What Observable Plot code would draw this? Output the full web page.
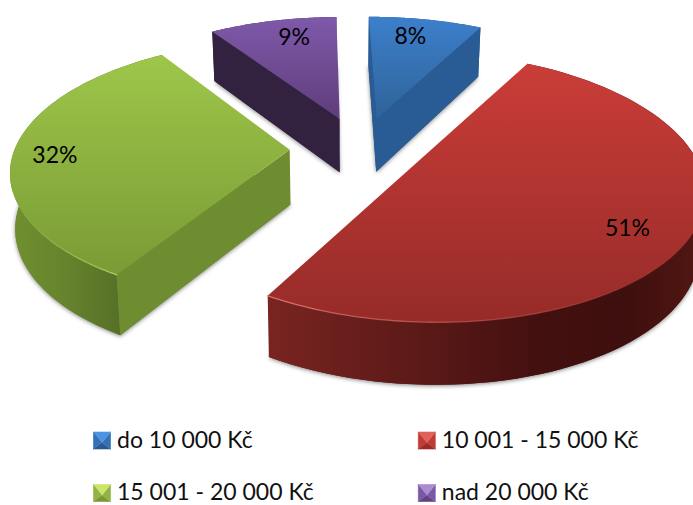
<!DOCTYPE html>
<html lang="cs">
<head>
<meta charset="utf-8">
<style>
  html, body { margin: 0; background: #fff; overflow: hidden; }
  svg { display: block; }
</style>
<script src="https://cdn.jsdelivr.net/npm/d3@7"></script>
<script src="https://cdn.jsdelivr.net/npm/@observablehq/plot@0.6"></script>
</head>
<body>
<script>
// Shares of respondents per income band, in percent.
const categories = ["do 10 000 Kč", "10 001 - 15 000 Kč", "15 001 - 20 000 Kč", "nad 20 000 Kč"];
const shares = [8, 51, 32, 9];

// Where each percentage sits inside its slice: along the sweep and out from the apex.
const labelSweep = [0.43, 0.52, 0.48, 0.59];
const labelRadius = [0.8, 0.807, 0.858, 0.8];

// Slice colours: top face (upper, lower), cut face, outer wall stops, legend swatch facets.
const topColors = [["#3c7fcb", "#2f6399"], ["#ca3d38", "#962b28"], ["#9ec64a", "#7a9b35"], ["#7f59aa", "#5f3d7b"]];
const cutColors = ["#295b94", "#5a1a18", "#6e8c30", "#322240"];
const wallStops = [
  [[0, "#295b94"], [1, "#295b94"]],
  [[0, "#792421"], [0.3, "#5f1b19"], [0.62, "#43100f"], [0.82, "#3d0f0e"], [1, "#541713"]],
  [[0, "#70902f"], [0.35, "#66842d"], [0.72, "#566f27"], [1, "#566f27"]],
  [[0, "#322240"], [1, "#322240"]]
];
const swatchFacets = [
  ["#4d94e0", "#3570b4", "#2a5a92", "#3570b4"],
  ["#e0605a", "#c03a36", "#9a2c28", "#c03a36"],
  ["#c9e56a", "#93b343", "#7a9836", "#93b343"],
  ["#a98bd0", "#7a58a6", "#61437f", "#7a58a6"]
];
const rimColors = [null, "#e0706a", "#b4d45c", null];
const rimSpans = [null, [0.45, 1], [0, 0.5], null];

// Perspective view of the pie plane, explosion and per-slice refinements.
const view = [272.2, 47.5, 359.8, -0.734, -103.2, 148.75, 0.00596, 0.1514];
const explode = 0.261;
const sliceReach = [1, 1.01, 1.012, 1];
const sliceDrift = [0.005, 0, 0, 0];

function project(X, Y) {
  const w = view[6] * X + view[7] * Y + 1;
  return [(view[0] * X + view[1] * Y + view[2]) / w, (view[3] * X + view[4] * Y + view[5]) / w];
}
// Drop from a point on the top face to the same point on the base.
const below = ([x, y]) => [x + (340 - x) * 0.016, y + 48 + 0.045 * y];

// Slice angles come straight from the shares.
let running = 0;
const slices = shares.map((share, i) => {
  const a0 = (running * 3.6 * Math.PI) / 180;
  running += share;
  const a1 = (running * 3.6 * Math.PI) / 180;
  const mid = (a0 + a1) / 2;
  const point = (t, r) =>
    project(
      sliceDrift[i] + explode * Math.sin(mid) + r * Math.sin(t),
      explode * Math.cos(mid) + r * Math.cos(t)
    );
  const arc = (f0 = 0, f1 = 1) =>
    d3.range(0, 81).map((k) => point(a0 + (a1 - a0) * (f0 + ((f1 - f0) * k) / 80), sliceReach[i]));
  return { i, a0, a1, mid, point, arc };
});

const xy = { x: (d) => d[0], y: (d) => d[1] };
const polygon = (pts, fill, extra = {}) => Plot.line(pts, { ...xy, fill, stroke: "none", ...extra });

// Gradients shared by the faces of each slice.
function gradients() {
  const defs = d3.create("svg:defs");
  const add = (id, stops, horizontal) => {
    const g = defs.append("linearGradient").attr("id", id)
      .attr("x1", 0).attr("y1", 0).attr("x2", horizontal ? 1 : 0).attr("y2", horizontal ? 0 : 1);
    stops.forEach(([o, c, a = 1]) =>
      g.append("stop").attr("offset", o).attr("stop-color", c).attr("stop-opacity", a));
  };
  slices.forEach(({ i }) => {
    add(`top${i}`, [[0, topColors[i][0]], [1, topColors[i][1]]], false);
    add(`wall${i}`, wallStops[i], true);
  });
  add("rim1", [[0, rimColors[1], 0.9], [1, rimColors[1], 0]], true);
  add("rim2", [[0, rimColors[2], 0], [1, rimColors[2], 0.9]], true);
  return defs.node();
}

const marks = [gradients];

slices.forEach((s) => {
  const { i, point, a0, a1 } = s;
  const apex = point(0, 0);
  const arc = s.arc();
  const start = arc[0];
  const end = arc[arc.length - 1];
  // A slice of about half the pie keeps a straight cut across its apex.
  const outline = a1 - a0 > Math.PI ? arc : [apex, ...arc];
  // Base of the slice casts the soft contact shadow.
  marks.push(polygon(outline.map(below), cutColors[i], {
    imageFilter: "drop-shadow(0 1px 2px rgba(0,0,0,.5))"
  }));
  marks.push(polygon([...arc, ...arc.map(below).reverse()], `url(#wall${i})`));
  if (start[0] < apex[0] - 3) marks.push(polygon([apex, start, below(start), below(apex)], cutColors[i]));
  if (end[0] > apex[0] + 3) marks.push(polygon([apex, end, below(end), below(apex)], cutColors[i]));
  marks.push(polygon(outline, `url(#top${i})`));
  if (rimSpans[i]) {
    marks.push(Plot.line(s.arc(...rimSpans[i]), { ...xy, stroke: `url(#rim${i})`, strokeWidth: 1.3 }));
  }
});

// Percentages on the slices.
const labels = slices.map((s) => {
  const [x, y] = s.point(s.a0 + (s.a1 - s.a0) * labelSweep[s.i], labelRadius[s.i]);
  return { x, y, text: `${shares[s.i]}%` };
});
marks.push(Plot.text(labels, {
  x: "x", y: "y", text: "text", fontSize: 23, fontFamily: "Lato", fill: "#000"
}));

// Legend, two columns by two rows.
const legendColumns = [101.5, 426.3];
const legendRows = [440, 492.5];
const swatchHalf = 8.5;
const legendItems = [[0, 0], [1, 0], [0, 1], [1, 1]].map(([c, r], i) => ({
  cx: legendColumns[c], cy: legendRows[r], text: categories[i], i
}));
legendItems.forEach(({ cx, cy, i }) => {
  const h = swatchHalf;
  const corners = [[cx - h, cy - h], [cx + h, cy - h], [cx + h, cy + h], [cx - h, cy + h]];
  const peak = [cx, cy + 2];
  // Bottom and side facets first, so the bright top facet sits over their seams.
  [2, 1, 3, 0].forEach((k) => {
    const color = swatchFacets[i][k];
    marks.push(polygon([corners[k], corners[(k + 1) % 4], peak], color, { stroke: color, strokeWidth: 0.6 }));
  });
});
marks.push(Plot.text(legendItems, {
  x: (d) => d.cx + 15, y: "cy", text: "text", textAnchor: "start",
  fontSize: 23, fontFamily: "Lato", fill: "#111"
}));

const chart = Plot.plot({
  width: 693,
  height: 505,
  margin: 0,
  x: { domain: [0, 693], range: [0, 693], axis: null },
  y: { domain: [0, 505], range: [0, 505], axis: null },
  marks
});
document.body.append(chart);
</script>
</body>
</html>
